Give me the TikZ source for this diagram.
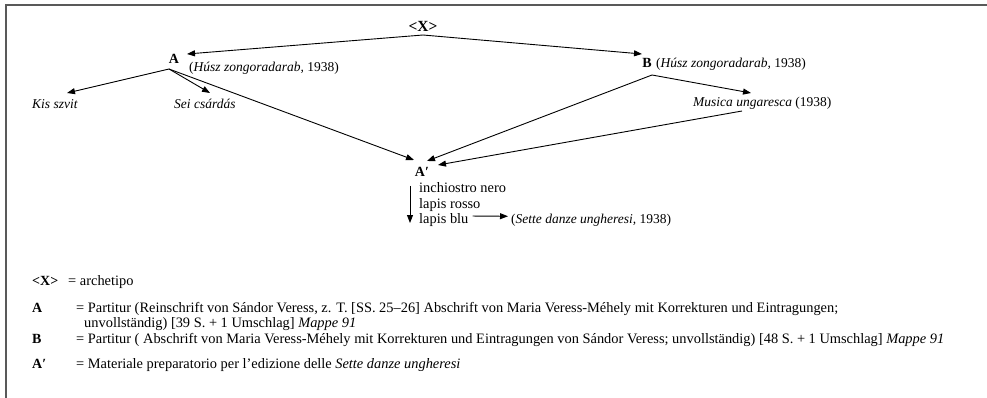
\documentclass[tikz,border=0pt]{standalone}
\usepackage{fontspec}
\setmainfont{Liberation Serif}
\usepackage{tikz}
\usetikzlibrary{arrows.meta}
\tikzset{
    siglum/.style={
        inner sep=0,
        font=\fontsize{14}{16}\selectfont\bfseries,
    },
    work/.style={
        inner sep=0,
        anchor=base west,
        font=\fontsize{13.5}{15}\selectfont,
    },
    legend/.style={
        inner sep=0,
        anchor=base west,
        font=\fontsize{14.4}{15}\selectfont,
    },
    stemma/.style={
        line width=0.9pt,
        -{Triangle[length=8pt,width=6pt]},
    },
}

\begin{document}
\begin{tikzpicture}[x=1pt,y=-1pt]
            \useasboundingbox (0,0) rectangle (987,398);
            \draw[line width=2pt, black!65] (5.5,398) -- (5.5,5.5) -- (987,5.5);

            \node[siglum, font=\fontsize{15.5}{17}\selectfont\bfseries] at (423, 26) (X) {<X>};
            \node[siglum] at (174, 59)  (A)      {A};
            \node[siglum] at (647, 63)  (B)      {B};
            \node[siglum] at (422, 172) (Ap)     {A′};

            \node[work] at (189, 72)  (Adate)  {(\textit{Húsz zongoradarab,} 1938)};
            \node[work] at (656, 68)  (Bdate)  {(\textit{Húsz zongoradarab,} 1938)};
            \node[work] at (32, 109)  (kis)    {\textit{Kis szvit}};
            \node[work] at (174, 109) (sei)    {\textit{Sei csárdás}};
            \node[work] at (693, 107) (musica) {\textit{Musica ungaresca} (1938)};

            \node[legend] at (419, 193) (ink)    {inchiostro nero};
            \node[legend] at (419, 208) (rosso)  {lapis rosso};
            \node[legend] at (419, 223) (blu)    {lapis blu};
            \node[work] at (511, 223) (sette)  {(\textit{Sette danze ungheresi,} 1938)};

            \coordinate (Xfoot) at (423, 35);
            \coordinate (Afoot) at (169, 69);
            \coordinate (Bfoot) at (652, 75);
            \coordinate (Mfoot) at (742, 111);
            \coordinate (inktop) at (410, 186);
            \coordinate (blutip) at (410, 223);

            \draw[stemma] (Xfoot) -- (187, 54);
            \draw[stemma] (Xfoot) -- (642, 54);
            \draw[stemma] (Afoot) -- (67, 93);
            \draw[stemma] (Afoot) -- (210, 93);
            \draw[stemma] (Afoot) -- (414, 160);
            \draw[stemma] (Bfoot) -- (427, 161);
            \draw[stemma] (Bfoot) -- (751, 93);
            \draw[stemma] (Mfoot) -- (438, 165);
            \draw[stemma] (inktop) -- (blutip);
            \draw[stemma] ([shift={(4,-3.5)}]blu.east) -- ([shift={(-3,-3.5)}]sette.west);

            % legenda
            \node[siglum, anchor=base west] at (32, 285) (lX)  {<X>};
            \node[legend] at (68, 285)  (lXt) {= archetipo};
            \node[siglum, anchor=base west] at (32, 312) (lA)  {A};
            \node[legend] at (76, 312)  (lAt) {= Partitur (Reinschrift von Sándor Veress, z. T. [SS. 25–26] Abschrift von Maria Veress-Méhely mit Korrekturen und Eintragungen;};
            \node[legend] at (84, 327)  (lAt2) {unvollständig) [39 S. + 1 Umschlag] \textit{Mappe 91}};
            \node[siglum, anchor=base west] at (32, 343) (lB)  {B};
            \node[legend] at (76, 343)  (lBt) {= Partitur ( Abschrift von Maria Veress-Méhely mit Korrekturen und Eintragungen von Sándor Veress; unvollständig) [48 S. + 1 Umschlag] \textit{Mappe 91}};
            \node[siglum, anchor=base west] at (32, 368) (lAp) {A′};
            \node[legend] at (76, 368)  (lApt) {= Materiale preparatorio per l'edizione delle \textit{Sette danze ungheresi}};
        \end{tikzpicture}
\end{document}
